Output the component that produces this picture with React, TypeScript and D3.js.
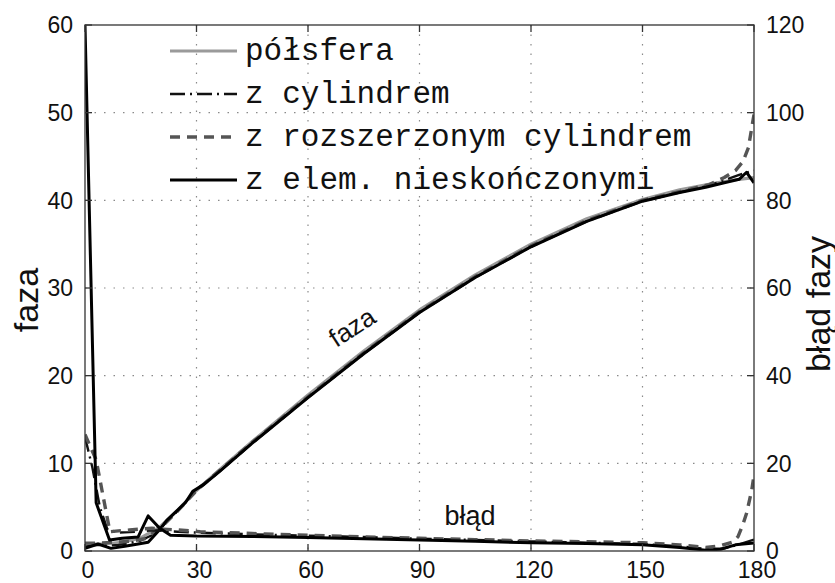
import React from "react";
import * as d3 from "d3";

type P = [number, number];

// x: angle (deg); phase on left axis, error on right axis
const xTicks = [0, 30, 60, 90, 120, 150, 180];
const yLeftTicks = [0, 10, 20, 30, 40, 50, 60];
const yRightTicks = [0, 20, 40, 60, 80, 100, 120];

const legendLabels = ["półsfera", "z cylindrem", "z rozszerzonym cylindrem", "z elem. nieskończonymi"];

const phaseHemi: P[] = [[0,0.8],[5,0.8],[10,1.0],[15,1.5],[20,2.7],[25,4.7],[30,6.9],[36,9.2],[45,12.5],[60,17.8],[75,22.8],[90,27.5],[105,31.5],[120,35.0],[135,37.9],[150,40.1],[160,41.2],[170,42.0],[176,42.4],[180,42.6]];
const phaseCyl: P[] = [[0,0.5],[3,0.7],[6,0.6],[9,0.7],[12,0.9],[15,1.2],[18,1.8],[21,2.9],[25,4.6],[30,7.0],[36,9.0],[45,12.3],[60,17.5],[75,22.5],[90,27.2],[105,31.2],[120,34.7],[135,37.6],[150,39.9],[160,40.9],[168,41.7],[172,42.3],[176,42.9],[180,43.4]];
const phaseExt: P[] = [[0,0.9],[4,0.9],[8,1.0],[12,1.1],[16,1.4],[20,2.5],[25,4.6],[30,6.9],[36,9.1],[45,12.4],[60,17.6],[75,22.6],[90,27.3],[105,31.3],[120,34.8],[135,37.7],[150,40.0],[160,41.0],[168,41.8],[172,42.6],[175,43.4],[177,44.4],[178.5,46.0],[180,49.8]];
const phaseFem: P[] = [[0,0.3],[3.5,0.8],[7,0.3],[10.7,0.55],[14.3,0.8],[17,1.0],[20,2.4],[22,3.5],[25,4.7],[27,5.5],[29,6.8],[32,7.6],[36,9.0],[45,12.3],[60,17.5],[75,22.5],[90,27.2],[105,31.2],[120,34.7],[135,37.6],[150,39.9],[160,40.9],[167,41.5],[172,42.0],[176,42.4],[178,43.2],[180,42.0]];

const errCyl: P[] = [[0,26],[2,19],[4,10],[6,5],[9,4.2],[12,4.3],[15,4.5],[18,4.7],[21,4.6],[25,4.4],[30,4.2],[45,3.8],[60,3.5],[75,3.2],[90,2.8],[105,2.5],[120,2.2],[135,1.9],[150,1.6],[160,1.1],[167,0.5],[172,0.6],[176,1.5],[180,2.6]];
const errExt: P[] = [[0,26.6],[3,20.8],[6.7,4.4],[9,4.6],[12,4.8],[15,5.0],[18,5.2],[21,5.0],[25,4.8],[31,4.4],[45,4.0],[60,3.6],[75,3.2],[90,2.9],[105,2.6],[120,2.3],[135,2.1],[150,1.9],[160,1.4],[167,0.8],[171,1.2],[174.4,2.1],[175.7,3.3],[177,6],[178,8.6],[179.4,13.9],[180,17.3]];
const errFem: P[] = [[0,120],[3,11],[6.6,2.5],[10,2.9],[14.3,3.2],[17,8.0],[20.1,5.2],[23,3.6],[30,3.4],[45,3.3],[60,3.1],[75,2.8],[90,2.5],[105,2.2],[120,1.9],[135,1.7],[150,1.4],[160,0.8],[167,0.2],[171,0.4],[175,1.4],[180,1.8]];

const W = 835, H = 583;
const L = 85, R = 754, T = 25, B = 551;

const styles = [
  { stroke: "#9a9a9a", width: 3.2, dash: "" },
  { stroke: "#111", width: 2.4, dash: "15,5,2,5" },
  { stroke: "#555", width: 3.4, dash: "10,7" },
  { stroke: "#000", width: 3, dash: "" },
];

export default function App() {
  const x = d3.scaleLinear().domain([0, 180]).range([L, R]);
  const yL = d3.scaleLinear().domain([0, 60]).range([B, T]);
  const yR = d3.scaleLinear().domain([0, 120]).range([B, T]);
  const lineL = d3.line<P>().x((d) => x(d[0])).y((d) => yL(d[1]));
  const lineR = d3.line<P>().x((d) => x(d[0])).y((d) => yR(d[1]));
  const phases = [phaseHemi, phaseCyl, phaseExt, phaseFem];
  const errors = [errCyl, errExt, errFem];
  const errStyles = [styles[1], styles[2], styles[3]];
  const tickFont = "Liberation Sans, Arial, Helvetica, sans-serif";
  const tl = 7;

  return (
    <svg width={W} height={H} style={{ position: "fixed", left: 0, top: 0, background: "#fff" }}>
      <defs>
        <clipPath id="plotclip">
          <rect x={L} y={T} width={R - L} height={B - T} />
        </clipPath>
      </defs>
      <rect x={0} y={0} width={W} height={H} fill="#fff" />
      {/* grid */}
      {xTicks.slice(1, -1).map((t) => (
        <line key={"gx" + t} x1={x(t)} x2={x(t)} y1={T} y2={B} stroke="#8a8a8a" strokeWidth={1.2} strokeDasharray="1.5,8" />
      ))}
      {yLeftTicks.slice(1, -1).map((t) => (
        <line key={"gy" + t} x1={L} x2={R} y1={yL(t)} y2={yL(t)} stroke="#8a8a8a" strokeWidth={1.2} strokeDasharray="1.5,8" />
      ))}
      {/* curves */}
      <g clipPath="url(#plotclip)" fill="none" strokeLinejoin="round">
        {phases.map((p, i) => (
          <path key={"p" + i} d={lineL(p) || ""} stroke={styles[i].stroke} strokeWidth={styles[i].width} strokeDasharray={styles[i].dash} />
        ))}
        {errors.map((p, i) => (
          <path key={"e" + i} d={lineR(p) || ""} stroke={errStyles[i].stroke} strokeWidth={errStyles[i].width} strokeDasharray={errStyles[i].dash} />
        ))}
      </g>
      {/* box */}
      <rect x={L} y={T} width={R - L} height={B - T} fill="none" stroke="#333" strokeWidth={1.3} />
      {/* ticks */}
      {xTicks.map((t) => (
        <g key={"tx" + t} stroke="#333" strokeWidth={1.3}>
          <line x1={x(t)} x2={x(t)} y1={B} y2={B - tl} />
          <line x1={x(t)} x2={x(t)} y1={T} y2={T + tl} />
        </g>
      ))}
      {yLeftTicks.map((t) => (
        <line key={"tyl" + t} x1={L} x2={L + tl} y1={yL(t)} y2={yL(t)} stroke="#333" strokeWidth={1.3} />
      ))}
      {yRightTicks.map((t) => (
        <line key={"tyr" + t} x1={R} x2={R - tl} y1={yR(t)} y2={yR(t)} stroke="#333" strokeWidth={1.3} />
      ))}
      {/* tick labels */}
      <g fontFamily={tickFont} fontSize={23} fill="#111">
        {xTicks.map((t) => (
          <text key={"lx" + t} x={x(t) + 3} y={578} textAnchor="middle">{t}</text>
        ))}
        {yLeftTicks.map((t) => (
          <text key={"ll" + t} x={73} y={yL(t)} dy="0.36em" textAnchor="end">{t}</text>
        ))}
        {yRightTicks.map((t) => (
          <text key={"lr" + t} x={766} y={yR(t)} dy="0.36em" textAnchor="start">{t}</text>
        ))}
      </g>
      {/* axis labels */}
      <text transform="translate(38,300) rotate(-90)" textAnchor="middle" fontFamily={tickFont} fontSize={34} fill="#111">faza</text>
      <text transform="translate(830,304) rotate(-90)" textAnchor="middle" fontFamily={tickFont} fontSize={34} fill="#111">błąd fazy</text>
      {/* inline labels */}
      <text transform="translate(352,327) rotate(-33)" textAnchor="middle" dy="0.35em" fontFamily={tickFont} fontSize={26} fill="#111">faza</text>
      <text x={470} y={525} textAnchor="middle" fontFamily={tickFont} fontSize={27} fill="#111">błąd</text>
      {/* legend */}
      {legendLabels.map((lab, i) => {
        const ry = 51 + i * 43;
        return (
          <g key={"lg" + i}>
            <line x1={170} x2={237} y1={ry} y2={ry} stroke={styles[i].stroke} strokeWidth={styles[i].width} strokeDasharray={styles[i].dash} />
            <text x={245} y={ry + 9} fontFamily="'Courier New', 'Liberation Mono', monospace" fontSize={31} fill="#111">{lab}</text>
          </g>
        );
      })}
    </svg>
  );
}
